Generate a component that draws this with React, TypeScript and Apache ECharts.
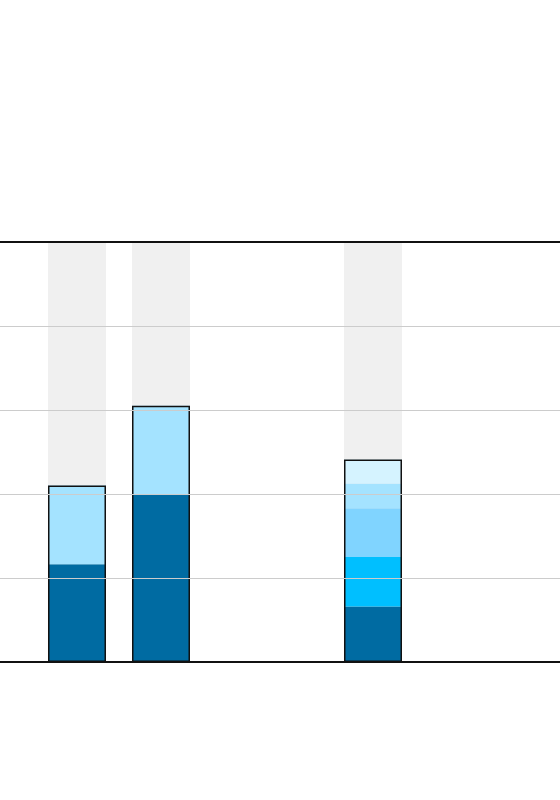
import React, { useEffect, useRef } from "react";
import * as echarts from "echarts";

const categories = ["Group 1", "Group 2"];
const barOneSegments = [23.3, 18.7];
const barTwoSegments = [39.8, 21.2];
const barThreeSegments = [13.2, 11.8, 11.6, 5.9, 5.7];
const barOneColors = ["#006BA2", "#A4E3FF"];
const barTwoColors = ["#006BA2", "#A4E3FF"];
const barThreeColors = ["#006BA2", "#00BFFF", "#80D4FF", "#A4E3FF", "#D5F3FF"];
const yTicks = [0, 20, 40, 60, 80, 100];

const sum = (a: number[]) => Math.round(a.reduce((s, v) => s + v, 0) * 10) / 10;

export default function App() {
  const ref = useRef<HTMLDivElement>(null);
  useEffect(() => {
    if (!ref.current) return;
    const chart = echarts.init(ref.current, null, { renderer: "svg" });
    const BW = 58;
    const GAP = "44.83%";
    const maxY = yTicks[yTicks.length - 1];
    const series: any[] = [];
    // background
    series.push({
      type: "bar", xAxisIndex: 1, barWidth: BW, barGap: GAP, z: 1, silent: true,
      itemStyle: { color: "#F0F0F0" }, data: [maxY, maxY],
    });
    series.push({
      type: "bar", xAxisIndex: 1, barWidth: BW, barGap: GAP, z: 1, silent: true,
      itemStyle: { color: "#F0F0F0" }, data: [maxY, "-"],
    });
    // stack A
    for (let i = 0; i < barThreeSegments.length; i++) {
      const d0 = i < barOneSegments.length ? { value: barOneSegments[i], itemStyle: { color: barOneColors[i] } } : "-";
      const d1 = { value: barThreeSegments[i], itemStyle: { color: barThreeColors[i] } };
      series.push({ type: "bar", xAxisIndex: 0, stack: "a", barWidth: BW, barGap: GAP, z: 2, data: [d0, d1] });
    }
    // stack B
    for (let i = 0; i < barTwoSegments.length; i++) {
      series.push({
        type: "bar", xAxisIndex: 0, stack: "b", barWidth: BW, barGap: GAP, z: 2,
        data: [{ value: barTwoSegments[i], itemStyle: { color: barTwoColors[i] } }, "-"],
      });
    }
    // outlines
    const outline = { color: "rgba(0,0,0,0)", borderColor: "#111", borderWidth: 1.5 };
    series.push({
      type: "bar", xAxisIndex: 2, barWidth: BW, barGap: GAP, z: 3, silent: true,
      itemStyle: outline, data: [sum(barOneSegments), sum(barThreeSegments)],
    });
    series.push({
      type: "bar", xAxisIndex: 2, barWidth: BW, barGap: GAP, z: 3, silent: true,
      itemStyle: outline, data: [sum(barTwoSegments), "-"],
    });

    const hiddenX = {
      type: "category", data: categories,
      axisTick: { show: false }, axisLabel: { show: false }, splitLine: { show: false },
    };
    chart.setOption({
      animation: false,
      backgroundColor: "#fff",
      grid: { left: -29, right: -3, top: 242, bottom: 138, outerBoundsMode: "none", containLabel: false },
      xAxis: [
        { ...hiddenX, position: "bottom", z: 10, axisLine: { show: true, lineStyle: { color: "#111", width: 2 } } },
        { ...hiddenX, position: "top", z: 10, axisLine: { show: true, lineStyle: { color: "#111", width: 2 } } },
        { ...hiddenX, show: false },
      ],
      yAxis: {
        type: "value", min: yTicks[0], max: maxY, interval: yTicks[1] - yTicks[0], z: 9,
        axisLine: { show: false }, axisTick: { show: false }, axisLabel: { show: false },
        splitLine: { show: true, lineStyle: { color: "#CCCCCC", width: 1 } },
      },
      series,
    });
    return () => chart.dispose();
  }, []);
  return <div ref={ref} style={{ position: "fixed", left: 0, top: 0, width: 560, height: 800 }} />;
}
